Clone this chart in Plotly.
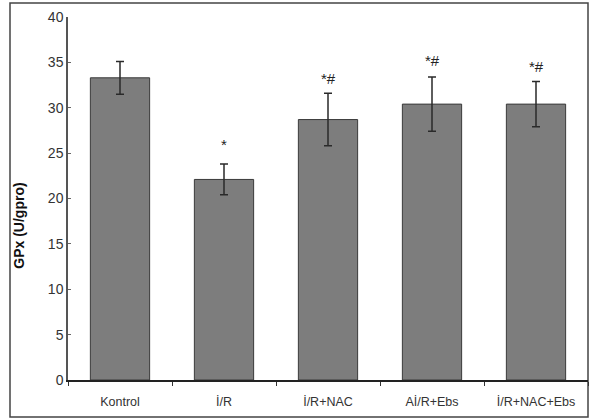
import plotly.graph_objects as go

categories = ["Kontrol", "İ/R", "İ/R+NAC", "Aİ/R+Ebs", "İ/R+NAC+Ebs"]
means = [33.3, 22.1, 28.7, 30.4, 30.4]
errors = [1.8, 1.7, 2.9, 3.0, 2.5]
marks = ["", "*", "*#", "*#", "*#"]
mark_y = [None, 25.9, 33.2, 35.2, 34.6]
y_ticks = [0, 5, 10, 15, 20, 25, 30, 35, 40]

FONT = "Liberation Sans"

fig = go.Figure()
fig.add_trace(go.Bar(
    x=categories, y=means, width=0.57,
    marker=dict(color="#7d7d7d", line=dict(color="#3a3a3a", width=1)),
    error_y=dict(type="data", array=errors, visible=True, color="#2a2a2a",
                 thickness=1.5, width=4),
))

for c, m, yv in zip(categories, marks, mark_y):
    if m:
        fig.add_annotation(x=c, y=yv, text=m, showarrow=False,
                           font=dict(family=FONT, size=15, color="#222"),
                           xanchor="center", yanchor="middle")

fig.add_annotation(xref="paper", yref="y", x=(19 - 68) / 520, y=17,
                   text="<b>GPx (U/gpro)</b>", textangle=-90, showarrow=False,
                   font=dict(family=FONT, size=14, color="#111"),
                   xanchor="center", yanchor="middle")

fig.add_shape(type="rect", xref="paper", yref="paper",
              x0=(10 - 68) / 520, x1=(588 - 68) / 520,
              y0=(380 - 417) / 363, y1=(380 - 3) / 363,
              line=dict(color="#444", width=1.5), layer="below")

fig.update_layout(
    width=590, height=419,
    margin=dict(l=68, r=2, t=17, b=39),
    paper_bgcolor="white", plot_bgcolor="white",
    showlegend=False,
    font=dict(family=FONT, color="#333"),
)
fig.update_xaxes(
    type="category", showline=True, linecolor="#222", linewidth=1.5,
    ticks="outside", tickson="boundaries", ticklen=4, tickcolor="#333",
    tickfont=dict(family=FONT, size=12.5, color="#333"), ticklabelstandoff=9,
    showgrid=False, zeroline=False, range=[-0.5, 4.5],
)
fig.update_yaxes(
    range=[0, 40], tickvals=y_ticks, showline=True, linecolor="#555", linewidth=1.5,
    ticks="inside", ticklen=3, tickcolor="#666",
    tickfont=dict(family=FONT, size=14, color="#333"),
    showgrid=False, zeroline=False,
)

fig.write_html("out.html")
